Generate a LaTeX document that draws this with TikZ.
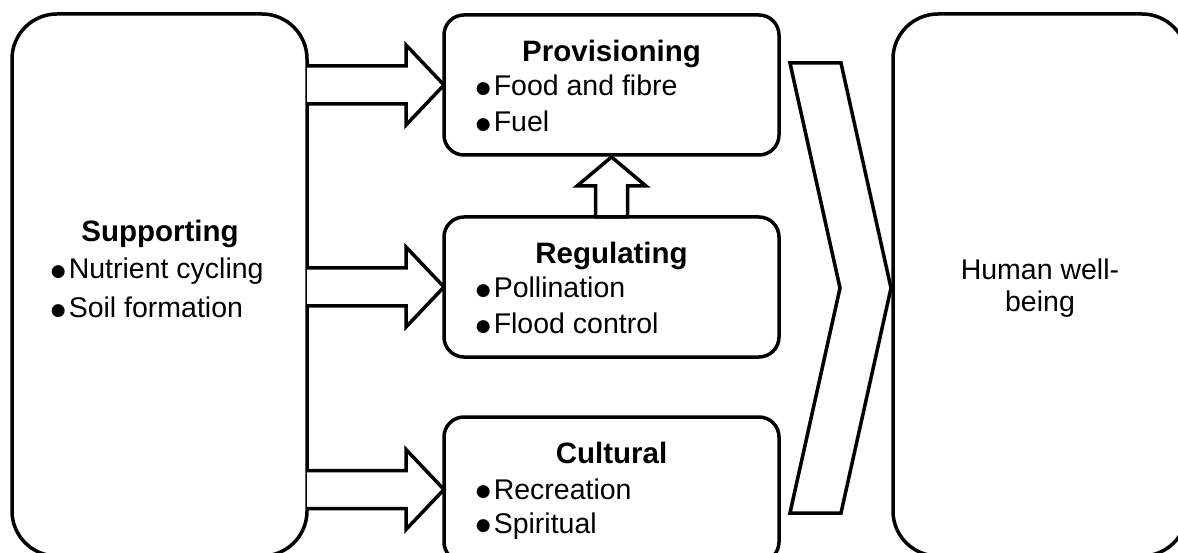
\documentclass[tikz,border=0pt]{standalone}
\usepackage{fontspec}
\setmainfont{Liberation Sans}
\newfontfamily\symfont{DejaVu Sans}
\usetikzlibrary{calc}
% bullet box placed in front of an item's text
\newcommand\bul{\makebox[18pt][l]{\raisebox{2.5pt}{\symfont\fontsize{17}{17}\selectfont ●}}}
\begin{document}
\begin{tikzpicture}[x=1pt,y=-1pt,
  line width=3.5pt, line join=miter,
  panel/.style={draw, line width=3.5pt, inner sep=0pt, outer sep=0pt, rounded corners=#1},
  service/.style={panel=20pt, minimum width=335pt, minimum height=#1},
  title/.style={anchor=base, inner sep=0pt, font=\fontsize{29.5}{34}\selectfont\bfseries},
  item/.style={anchor=base west, inner sep=0pt, font=\fontsize{28.5}{34}\selectfont},
  flow/.style={draw, line width=3.5pt, line join=miter, fill=white}]
\useasboundingbox (0,0) rectangle (1178,553);
\clip (0,0) rectangle (1178,553);

% outer panels
\node[panel=45pt, minimum width=295pt, minimum height=542pt] (sup) at (159.5,285) {};
\node[panel=45pt, minimum width=294pt, minimum height=542pt] (hwb) at (1040,285) {};

% service boxes
\node[service=140pt] (prov) at (611.5,85) {};
\node[service=140pt] (reg)  at (611.5,287) {};
\node[service=145pt] (cul)  at (611.5,489.5) {};

% texts
\node[title] (sup-t) at (160,242) {Supporting};
\node[item] (sup-1) at (49,279) {\bul Nutrient cycling};
\node[item] (sup-2) at (49,318) {\bul Soil formation};

\node[title] (prov-t) at (611.5,62) {Provisioning};
\node[item] (prov-1) at (474,96) {\bul Food and fibre};
\node[item] (prov-2) at (474,132) {\bul Fuel};

\node[title] (reg-t) at (611.5,264) {Regulating};
\node[item] (reg-1) at (474,298) {\bul Pollination};
\node[item] (reg-2) at (474,334) {\bul Flood control};

\node[title] (cul-t) at (611.5,463) {Cultural};
\node[item] (cul-1) at (474,499) {\bul Recreation};
\node[item] (cul-2) at (474,533) {\bul Spiritual};

\node[align=center, inner sep=0pt, font=\fontsize{28.5}{32}\selectfont] (hwb-t) at ($(hwb.center)+(0,3)$) {Human well-\\being};

% block arrows from Supporting into each service box
\foreach \tgt in {prov, reg, cul} {
  \coordinate (\tgt-from) at (sup.east |- \tgt.west);
  \draw[flow] ($(\tgt-from)+(0,-19)$) -- ($(\tgt.west)+(-38,-19)$) -- ($(\tgt.west)+(-38,-40)$)
    -- (\tgt.west) -- ($(\tgt.west)+(-38,40)$) -- ($(\tgt.west)+(-38,19)$) -- ($(\tgt-from)+(0,19)$);
}

% upward block arrow from Regulating to Provisioning
\draw[flow] ($(reg.north)+(-16,0)$) -- ($(reg.north)+(-16,-31)$) -- ($(reg.north)+(-34.5,-31)$)
  -- ($(prov.south)+(0,2)$) -- ($(reg.north)+(34.5,-31)$) -- ($(reg.north)+(16,-31)$)
  -- ($(reg.north)+(16,0)$) -- cycle;

% chevron leading into Human well-being
\coordinate (chev-tip) at ($(hwb.west)+(-2,3)$);
\draw[flow] ($(chev-tip)+(-101,-225)$) -- ($(chev-tip)+(-50,-225)$) -- (chev-tip)
  -- ($(chev-tip)+(-50,225)$) -- ($(chev-tip)+(-101,225)$) -- ($(chev-tip)+(-51,0)$) -- cycle;
\end{tikzpicture}
\end{document}
